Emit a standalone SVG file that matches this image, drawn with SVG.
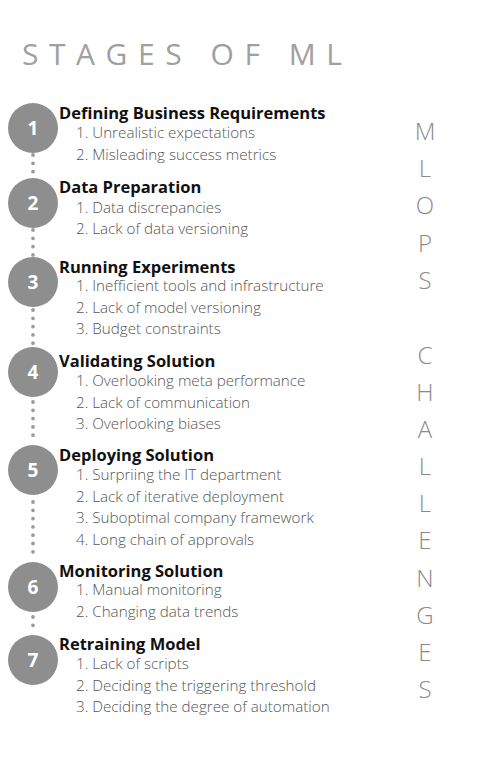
<svg xmlns="http://www.w3.org/2000/svg" width="482" height="768" viewBox="0 0 482 768">
<style>
.header{font-family:"Open Sans","Liberation Sans",sans-serif;font-size:30px;font-weight:400;fill:#a0a0a0}
.side{font-family:"Open Sans","Liberation Sans",sans-serif;font-size:24px;font-weight:300;fill:#8a8a8a;text-anchor:middle}
.circ{fill:#8e8e8e}
.num{font-family:"Open Sans","Liberation Sans",sans-serif;font-size:19px;font-weight:700;fill:#ffffff;text-anchor:middle}
.title{font-family:"Open Sans","Liberation Sans",sans-serif;font-size:16.5px;font-weight:700;fill:#111111}
.item{font-family:"Open Sans","Liberation Sans",sans-serif;font-size:15.2px;font-weight:300;fill:#555555}
.dots{stroke:#9a9a9a;stroke-width:3.8;stroke-linecap:round;stroke-dasharray:0 8.3;fill:none}
</style>
<rect width="482" height="768" fill="#ffffff"/>
<text class="header" x="22" y="65" textLength="320" lengthAdjust="spacing">STAGES OF ML</text>
<g id="connectors">
<line class="dots" x1="33" y1="155" x2="33" y2="176"/>
<line class="dots" x1="33" y1="230" x2="33" y2="255"/>
<line class="dots" x1="33" y1="310" x2="33" y2="344"/>
<line class="dots" x1="33" y1="402" x2="33" y2="443"/>
<line class="dots" x1="33" y1="502" x2="33" y2="560"/>
<line class="dots" x1="33" y1="617" x2="33" y2="633"/>
</g>
<g id="stage1">
<circle class="circ" cx="33" cy="128" r="25"/>
<text class="num" x="33" y="135">1</text>
<text class="title" x="59" y="119">Defining Business Requirements</text>
<text class="item" x="76" y="138">1. Unrealistic expectations</text>
<text class="item" x="76" y="160">2. Misleading success metrics</text>
</g>
<g id="stage2">
<circle class="circ" cx="33" cy="203" r="25"/>
<text class="num" x="33" y="210">2</text>
<text class="title" x="59" y="193">Data Preparation</text>
<text class="item" x="76" y="213">1. Data discrepancies</text>
<text class="item" x="76" y="234">2. Lack of data versioning</text>
</g>
<g id="stage3">
<circle class="circ" cx="33" cy="282" r="25"/>
<text class="num" x="33" y="289">3</text>
<text class="title" x="59" y="273">Running Experiments</text>
<text class="item" x="76" y="291">1. Inefficient tools and infrastructure</text>
<text class="item" x="76" y="313">2. Lack of model versioning</text>
<text class="item" x="76" y="334">3. Budget constraints</text>
</g>
<g id="stage4">
<circle class="circ" cx="33" cy="372" r="25"/>
<text class="num" x="33" y="379">4</text>
<text class="title" x="59" y="367">Validating Solution</text>
<text class="item" x="76" y="386">1. Overlooking meta performance</text>
<text class="item" x="76" y="408">2. Lack of communication</text>
<text class="item" x="76" y="429">3. Overlooking biases</text>
</g>
<g id="stage5">
<circle class="circ" cx="33" cy="470" r="25"/>
<text class="num" x="33" y="477">5</text>
<text class="title" x="59" y="461">Deploying Solution</text>
<text class="item" x="76" y="480">1. Surpriing the IT department</text>
<text class="item" x="76" y="502">2. Lack of iterative deployment</text>
<text class="item" x="76" y="523">3. Suboptimal company framework</text>
<text class="item" x="76" y="545">4. Long chain of approvals</text>
</g>
<g id="stage6">
<circle class="circ" cx="33" cy="587" r="25"/>
<text class="num" x="33" y="594">6</text>
<text class="title" x="59" y="577">Monitoring Solution</text>
<text class="item" x="76" y="595">1. Manual monitoring</text>
<text class="item" x="76" y="617">2. Changing data trends</text>
</g>
<g id="stage7">
<circle class="circ" cx="33" cy="660" r="25"/>
<text class="num" x="33" y="667">7</text>
<text class="title" x="59" y="650">Retraining Model</text>
<text class="item" x="76" y="669">1. Lack of scripts</text>
<text class="item" x="76" y="691">2. Deciding the triggering threshold</text>
<text class="item" x="76" y="712">3. Deciding the degree of automation</text>
</g>
<g id="side-label">
<text class="side" x="425" y="140">M</text>
<text class="side" x="425" y="177">L</text>
<text class="side" x="425" y="214">O</text>
<text class="side" x="425" y="252">P</text>
<text class="side" x="425" y="289">S</text>
<text class="side" x="425" y="364">C</text>
<text class="side" x="425" y="401">H</text>
<text class="side" x="425" y="438">A</text>
<text class="side" x="425" y="475">L</text>
<text class="side" x="425" y="512">L</text>
<text class="side" x="425" y="549">E</text>
<text class="side" x="425" y="587">N</text>
<text class="side" x="425" y="624">G</text>
<text class="side" x="425" y="661">E</text>
<text class="side" x="425" y="698">S</text>
</g>
</svg>
